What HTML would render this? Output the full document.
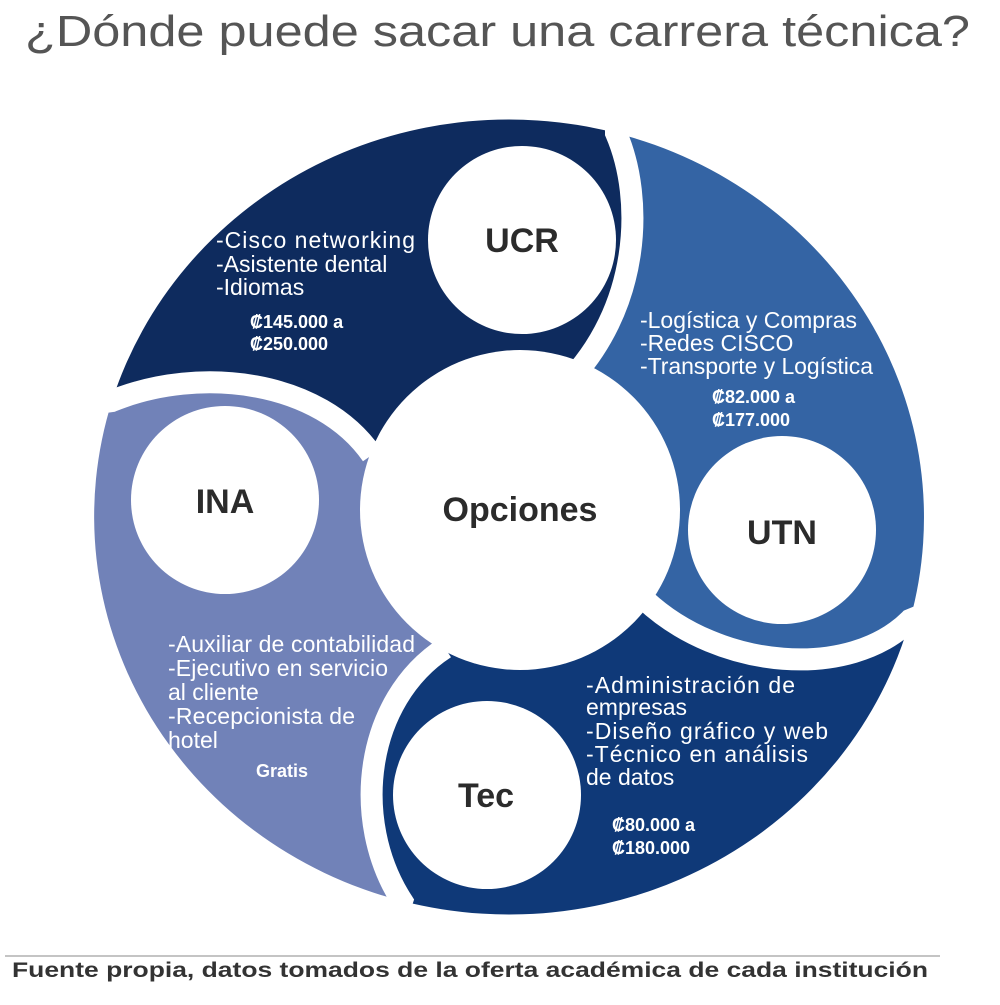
<!DOCTYPE html>
<html><head><meta charset="utf-8"><style>
body{margin:0;width:1000px;height:1000px;background:#fff;overflow:hidden;font-family:"Liberation Sans",sans-serif}
</style></head><body>
<svg width="1000" height="1000" viewBox="0 0 1000 1000" xmlns="http://www.w3.org/2000/svg" font-family="Liberation Sans, sans-serif">
<text x="25" y="46" font-size="44" fill="#555" textLength="945" lengthAdjust="spacingAndGlyphs">¿Dónde puede sacar una carrera  técnica?</text>
<path d="M520,510 L372,455 C320,380 200,365 112,401 A415,398 0 0 1 616,133 C645,200 640,310 565,385 Z" fill="#0e2b5e"/>
<path d="M520,510 L565,385 C640,310 645,200 616,133 A415,398 0 0 1 910,620 C850,680 720,670 645,600 Z" fill="#3464a4"/>
<path d="M520,510 L645,600 C720,670 850,680 910,620 A415,398 0 0 1 402,901 C350,820 365,700 445,648 Z" fill="#0f3978"/>
<path d="M520,510 L445,648 C365,700 350,820 402,901 A415,398 0 0 1 112,401 C200,365 320,380 372,455 Z" fill="#7182b8"/>
<g fill="none" stroke="#fff" stroke-width="22" stroke-linecap="butt">
<path d="M616,120 L616,133 C645,200 640,310 565,385"/>
<path d="M922,615 L910,620 C850,680 720,670 645,600"/>
<path d="M398,913 L402,901 C350,820 365,700 445,648"/>
<path d="M98,403 L112,401 C200,365 320,380 372,455"/>
</g>
<circle cx="520" cy="510" r="160" fill="#fff"/>
<circle cx="522" cy="240" r="94" fill="#fff"/>
<circle cx="782" cy="530" r="94" fill="#fff"/>
<circle cx="487" cy="795" r="94" fill="#fff"/>
<circle cx="225" cy="500" r="94" fill="#fff"/>
<g font-weight="bold" fill="#2b2b2b" text-anchor="middle" font-size="34">
<text x="520" y="521">Opciones</text>
<text x="522" y="252">UCR</text>
<text x="782" y="544">UTN</text>
<text x="486" y="807">Tec</text>
<text x="225" y="513">INA</text>
</g>
<g fill="#fff" font-size="23">
<text x="216" y="248" textLength="199">-Cisco networking</text>
<text x="216" y="272">-Asistente dental</text>
<text x="216" y="295">-Idiomas</text>
<text x="640" y="328" textLength="217">-Logística y Compras</text>
<text x="640" y="351">-Redes CISCO</text>
<text x="640" y="374" textLength="233">-Transporte y Logística</text>
<text x="586" y="693" textLength="209">-Administración de</text>
<text x="586" y="715"> empresas</text>
<text x="586" y="739" textLength="242">-Diseño gráfico y web</text>
<text x="586" y="762" textLength="222">-Técnico en análisis</text>
<text x="586" y="785"> de datos</text>
<text x="168" y="652" textLength="247">-Auxiliar de contabilidad</text>
<text x="168" y="676" textLength="220">-Ejecutivo en servicio</text>
<text x="168" y="700"> al cliente</text>
<text x="168" y="724" textLength="187">-Recepcionista de</text>
<text x="168" y="748">hotel</text>
</g>
<g fill="#fff" font-size="18" font-weight="bold">
<text x="250" y="328">₡145.000 a</text>
<text x="250" y="350">₡250.000</text>
<text x="712" y="403">₡82.000  a</text>
<text x="712" y="426">₡177.000</text>
<text x="612" y="831">₡80.000 a</text>
<text x="612" y="854">₡180.000</text>
<text x="256" y="777">Gratis</text>
</g>
<line x1="5" y1="956" x2="940" y2="956" stroke="#888" stroke-width="1"/>
<text x="12" y="977" font-size="21" font-weight="bold" fill="#333" textLength="916" lengthAdjust="spacingAndGlyphs">Fuente propia, datos tomados de la oferta académica de cada institución</text>
</svg>
</body></html>
